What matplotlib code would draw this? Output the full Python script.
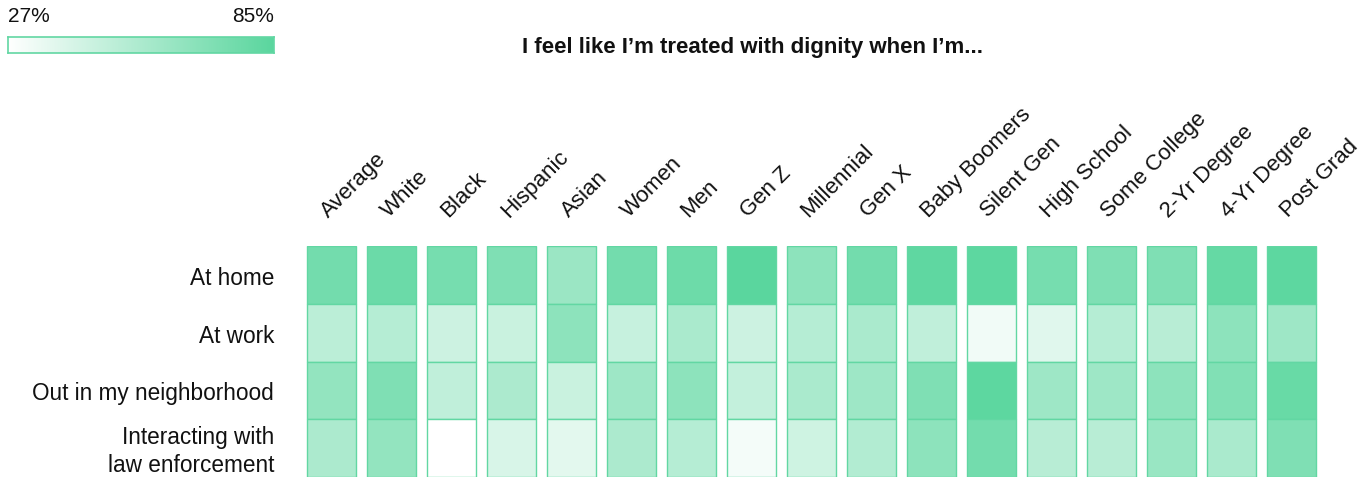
import matplotlib
matplotlib.use("Agg")
import matplotlib.pyplot as plt
import numpy as np
from matplotlib.colors import LinearSegmentedColormap, Normalize

plt.rcParams['font.family'] = ['Liberation Sans', 'DejaVu Sans']

columns = ["Average", "White", "Black", "Hispanic", "Asian", "Women", "Men",
           "Gen Z", "Millennial", "Gen X", "Baby Boomers", "Silent Gen",
           "High School", "Some College", "2-Yr Degree", "4-Yr Degree", "Post Grad"]
rows = ["At home", "At work", "Out in my neighborhood",
        "Interacting with\nlaw enforcement"]

at_home = [76, 79, 75, 72, 62, 76, 78, 85, 67, 76, 83, 84, 75, 72, 72, 81, 84]
at_work = [51, 53, 45, 46, 67, 47, 57, 45, 53, 57, 49, 32, 38, 53, 52, 67, 61]
neighborhood = [65, 72, 49, 56, 46, 61, 67, 48, 57, 61, 72, 84, 61, 61, 67, 71, 80]
law_enforcement = [56, 65, 27, 41, 37, 56, 53, 31, 44, 54, 67, 76, 52, 52, 63, 57, 72]

vmin, vmax = 27, 85
title = "I feel like I\u2019m treated with dignity when I\u2019m..."

W, H = 1372, 481
fig = plt.figure(figsize=(W / 100, H / 100), dpi=100)
cmap = LinearSegmentedColormap.from_list("g", ["#ffffff", "#5ad69e"])
norm = Normalize(vmin=vmin, vmax=vmax)
edge = "#62d7a3"
txt = "#111111"

# heatmap axes
x0, x1 = 301.5, 1321.5
y_top, y_bot = 247, 478
ax = fig.add_axes([x0 / W, (H - y_bot) / H, (x1 - x0) / W, (y_bot - y_top) / H])
data = [at_home, at_work, neighborhood, law_enforcement]
xs = np.arange(len(columns))
for r, vals in enumerate(data):
    ax.bar(xs, 1, bottom=r, width=49 / 60, color=cmap(norm(np.array(vals))),
           edgecolor=edge, linewidth=1.0, align="center")
ax.set_xlim(-0.5, len(columns) - 0.5)
ax.set_ylim(len(rows), 0)
ax.axis("off")

for i, c in enumerate(columns):
    ax.text(i - 0.05, -0.5, c, rotation=45, rotation_mode="anchor",
            ha="left", va="baseline", fontsize=16, color=txt, clip_on=False)

for r, lab in enumerate(rows):
    fig.text(274 / W, 1 - (y_top + 2.5 + (r + 0.5) * (y_bot - y_top) / 4) / H, lab,
             ha="right", va="center", fontsize=16.3, color=txt, linespacing=1.3)

# title
fig.text(753 / W, 1 - 47.5 / H, title, ha="center", va="center",
         fontsize=16, fontweight="bold", color=txt)

# colorbar legend
cax = fig.add_axes([8 / W, (H - 54) / H, 266 / W, 16 / H])
grad = np.linspace(vmin, vmax, 256).reshape(1, -1)
cax.imshow(grad, aspect="auto", cmap=cmap, norm=norm,
           extent=[vmin, vmax, 0, 1])
cax.set_xticks([])
cax.set_yticks([])
for s in cax.spines.values():
    s.set_color(edge)
    s.set_linewidth(1.2)
fig.text(8 / W, 1 - 16 / H, f"{vmin}%", ha="left", va="center", fontsize=15, color=txt)
fig.text(274 / W, 1 - 16 / H, f"{vmax}%", ha="right", va="center", fontsize=15, color=txt)

fig.savefig("out.png", dpi=100, facecolor="white")
